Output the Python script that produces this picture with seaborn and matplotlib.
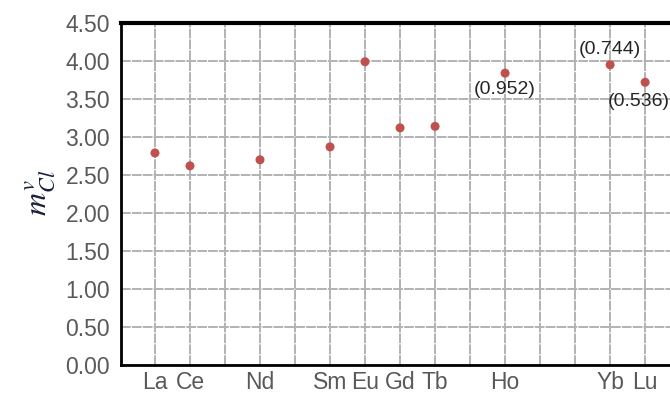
import matplotlib
matplotlib.use("Agg")
import matplotlib.pyplot as plt
import pandas as pd
import seaborn as sns

# full lanthanide series sets the x slots (one grid column per element)
series = ["La", "Ce", "Pr", "Nd", "Pm", "Sm", "Eu", "Gd", "Tb", "Dy",
          "Ho", "Er", "Tm", "Yb", "Lu"]

elements = ["La", "Ce", "Nd", "Sm", "Eu", "Gd", "Tb", "Ho", "Yb", "Lu"]
m_cl = [2.79, 2.62, 2.70, 2.87, 3.99, 3.12, 3.14, 3.84, 3.95, 3.72]

notes = {"Ho": "(0.952)", "Yb": "(0.744)", "Lu": "(0.536)"}

yticks = [0.0, 0.5, 1.0, 1.5, 2.0, 2.5, 3.0, 3.5, 4.0, 4.5]

df = pd.DataFrame({"element": elements, "m": m_cl})
df["pos"] = [series.index(e) + 1 for e in elements]

sns.set_style("white")
plt.rcParams["font.family"] = ["Liberation Sans", "DejaVu Sans"]
plt.rcParams["mathtext.fontset"] = "stix"

fig = plt.figure(figsize=(6.7, 3.94), dpi=100)
ax = fig.add_axes([121 / 670, 29 / 394, 549 / 670, 342 / 394])

sns.scatterplot(data=df, x="pos", y="m", ax=ax, color="#c0504d",
                s=42, edgecolor="none", zorder=3, clip_on=False)

ax.set_xlim(0.03, 15.71)
ax.set_ylim(0, 4.5)
ax.set_xticks(range(1, len(series) + 1))
ax.set_xticklabels([s if s in elements else "" for s in series])
ax.set_yticks(yticks)
ax.set_yticklabels([f"{v:.2f}" for v in yticks])
ax.tick_params(axis="both", length=0, labelsize=16.5, labelcolor="#595959")
ax.tick_params(axis="y", pad=8)
ax.tick_params(axis="x", pad=4)
ax.set_xlabel("")
ax.set_ylabel("")

ax.grid(True, color="#b2b2b2", linestyle=(0, (5, 0.6)), linewidth=1.4)
ax.set_axisbelow(True)

for side in ["left", "bottom"]:
    ax.spines[side].set_color("black")
    ax.spines[side].set_linewidth(2)
ax.spines["top"].set_color("black")
ax.spines["top"].set_linewidth(3)
ax.spines["right"].set_visible(False)

# value labels next to the three heavy elements
lookup = dict(zip(df["element"], zip(df["pos"], df["m"])))
offsets = {"Ho": (0, -12), "Yb": (0, 11), "Lu": (-4.3, -13.7)}
for el, txt in notes.items():
    x, y = lookup[el]
    ax.annotate(txt, (x, y), xytext=offsets[el], textcoords="offset points",
                ha="center", va="center", fontsize=14, color="#262626",
                annotation_clip=False)

fig.text(40 / 670, 1 - 193 / 394, r"$m_{Cl}^{v}$", rotation=90,
         ha="center", va="center", fontsize=23, color="#17203a")

fig.savefig("out.png", dpi=100)
